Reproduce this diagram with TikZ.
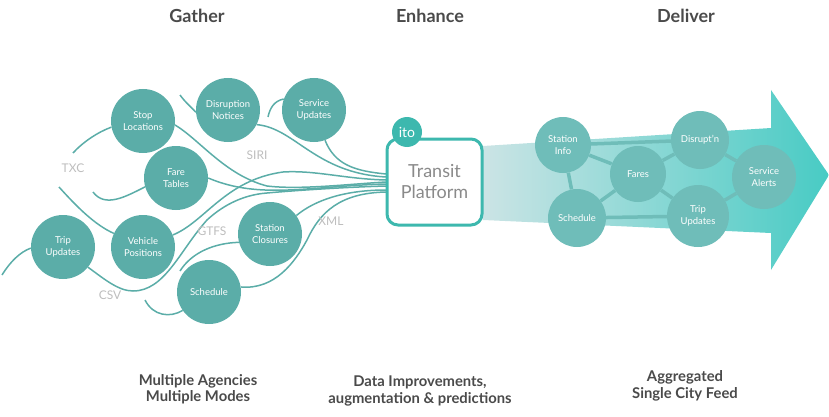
\documentclass[tikz,border=0pt]{standalone}
\usepackage{fontspec}
\setmainfont{Lato}
\usetikzlibrary{backgrounds}
\definecolor{itoInk}{HTML}{4A4A4A}
\definecolor{itoGrey}{HTML}{BDBDBD}
\definecolor{itoPlatformText}{HTML}{8A8A8A}
\definecolor{itoTeal}{HTML}{5BADA8}
\definecolor{itoBright}{HTML}{3DB8AE}
\definecolor{itoFeed}{HTML}{6FBDB9}
\definecolor{itoArrowLeft}{HTML}{CBE4E5}
\definecolor{itoArrowRight}{HTML}{48CBC4}
\tikzset{
  itoSource/.style={circle,fill=itoTeal,text=white,align=center,inner sep=0pt,
    minimum size=64pt,font=\fontsize{9.5}{11.5}\selectfont},
  itoOutput/.style={circle,fill=itoFeed,text=white,align=center,inner sep=0pt,
    font=\fontsize{9.5}{11.5}\selectfont},
  itoFormat/.style={text=itoGrey,inner sep=0pt,font=\fontsize{12}{14}\selectfont},
  itoHeading/.style={text=itoInk,inner sep=0pt,font=\fontsize{18}{20}\selectfont\bfseries},
  itoCaption/.style={text=itoInk,align=center,inner sep=0pt,font=\fontsize{14.8}{16.5}\selectfont\bfseries}
}
\begin{document}
\begin{tikzpicture}[x=1pt,y=-1pt,
  curve/.style={draw=itoTeal,line width=1.5pt},
  link/.style={draw=itoFeed,line width=3.5pt}]
\useasboundingbox (0,0) rectangle (829,417);
% headings
\node[itoHeading] (gather) at (197,16) {Gather};
\node[itoHeading] (enhance) at (430,16) {Enhance};
\node[itoHeading] (deliver) at (686,16) {Deliver};
% sources
\node[itoSource] (stop) at (143,121) {Stop\\Locations};
\node[itoSource] (disruption) at (228,110) {Disruption\\Notices};
\node[itoSource] (service) at (314,110) {Service\\Updates};
\node[itoSource] (fare) at (176,178) {Fare\\Tables};
\node[itoSource] (trip) at (63,247) {Trip\\Updates};
\node[itoSource] (vehicle) at (143,247) {Vehicle\\Positions};
\node[itoSource] (closures) at (270,234) {Station\\Closures};
\node[itoSource] (schedule) at (209,292) {Schedule};
% platform
\node[draw=itoBright,line width=3pt,fill=white,rounded corners=11pt,minimum width=95pt,
  minimum height=86pt,inner sep=0pt,align=center,text=itoPlatformText,
  font=\fontsize{18}{21}\selectfont] (platform) at (434.5,182) {Transit\\Platform};
\node[circle,fill=itoBright,text=white,minimum size=30pt,inner sep=0pt,
  font=\fontsize{14}{14}\selectfont] (ito) at (407,132) {ito};
% format labels
\node[itoFormat] (txc) at (73,168) {TXC};
\node[itoFormat] (siri) at (257,155) {SIRI};
\node[itoFormat] (gtfs) at (212,231) {GTFS};
\node[itoFormat] (xml) at (331,221) {XML};
\node[itoFormat] (csv) at (110,295) {CSV};
% free ends
\coordinate (stopEnd) at (73,153);
\coordinate (disruptionEnd) at (180,95);
\coordinate (serviceEnd) at (268,117);
\coordinate (fareEnd) at (93,192);
\coordinate (vehicleEnd) at (59,187);
\coordinate (tripEnd) at (2,275);
\coordinate (closuresEnd) at (180,271);
\coordinate (scheduleEnd) at (145,300);
% platform ends
\coordinate (in1) at (386,174);
\coordinate (in2) at (386,177);
\coordinate (in3) at (386,180);
\coordinate (in4) at (386,182);
\coordinate (in5) at (386,184);
\coordinate (in6) at (386,186);
\coordinate (in7) at (386,190);
\coordinate (in8) at (386,192);
\begin{scope}[on background layer]
\draw[curve] (stop.191) .. controls (98,132) and (83,142) .. (stopEnd);
\draw[curve] (disruption.184) .. controls (192,108) and (185,102) .. (disruptionEnd);
\draw[curve] (service.160) .. controls (274,101) and (270,108) .. (serviceEnd);
\draw[curve] (fare.196) .. controls (125,197) and (105,208) .. (fareEnd);
\draw[curve] (vehicle.155) .. controls (95,225) and (77,207) .. (vehicleEnd);
\draw[curve] (trip.182) .. controls (20,252) and (10,262) .. (tripEnd);
\draw[curve] (closures.195) .. controls (215,243) and (192,252) .. (closuresEnd);
\draw[curve] (schedule.215) .. controls (170,318) and (153,316) .. (scheduleEnd);
\draw[curve] (service.-70) .. controls (335,165) and (355,171) .. (in1);
\draw[curve] (disruption.-27) .. controls (295,128) and (315,173) .. (in2);
\draw[curve] (stop.-7) .. controls (200,140) and (225,175) .. (267,186)
  .. controls (300,190) and (350,184) .. (in4);
\draw[curve] (fare.east) .. controls (260,200) and (310,186) .. (in5);
\draw[curve] (vehicle.22) .. controls (205,222) and (225,180) .. (283,172)
  .. controls (315,170) and (345,179) .. (in3);
\draw[curve] (trip.-39) .. controls (103,278) and (118,291) .. (133,291)
  .. controls (165,291) and (180,250) .. (207,220)
  .. controls (220,208) and (240,195) .. (267,193)
  .. controls (300,190) and (350,187) .. (in6);
\draw[curve] (closures.35) .. controls (315,200) and (345,190) .. (in7);
\draw[curve] (schedule.9) .. controls (275,290) and (295,262) .. (307,240)
  .. controls (320,212) and (340,193) .. (in8);
% feed arrow
\shade[left color=itoArrowLeft,right color=itoArrowRight]
  (483,146) -- (771,128) -- (771,90) -- (829,175) -- (771,270) -- (771,233) -- (483,220) -- cycle;
\end{scope}
% city feed
\node[itoOutput,minimum size=56pt] (stationOut) at (563,145) {Station\\Info};
\node[itoOutput,minimum size=58pt] (disruptOut) at (700,140) {Disrupt'n};
\node[itoOutput,minimum size=56pt] (faresOut) at (638,174) {Fares};
\node[itoOutput,minimum size=64pt] (alertsOut) at (764,177) {Service\\Alerts};
\node[itoOutput,minimum size=58pt] (scheduleOut) at (577,218) {Schedule};
\node[itoOutput,minimum size=62pt] (tripOut) at (698,216) {Trip\\Updates};
\begin{scope}[on background layer]
\draw[link] (stationOut) -- (disruptOut);
\draw[link] (stationOut) -- (faresOut);
\draw[link] (stationOut) -- (scheduleOut);
\draw[link] (faresOut) -- (disruptOut);
\draw[link] (faresOut) -- (scheduleOut);
\draw[link] (faresOut) -- (tripOut);
\draw[link] (scheduleOut) -- (tripOut);
\draw[link] (disruptOut) -- (alertsOut);
\draw[link] (tripOut) -- (alertsOut);
\end{scope}
% captions
\node[itoCaption] (agencies) at (198,389) {Multiple Agencies\\Multiple Modes};
\node[itoCaption] (improve) at (420,391) {Data Improvements,\\augmentation \& predictions};
\node[itoCaption] (city) at (685,386) {Aggregated\\Single City Feed};
\end{tikzpicture}
\end{document}
